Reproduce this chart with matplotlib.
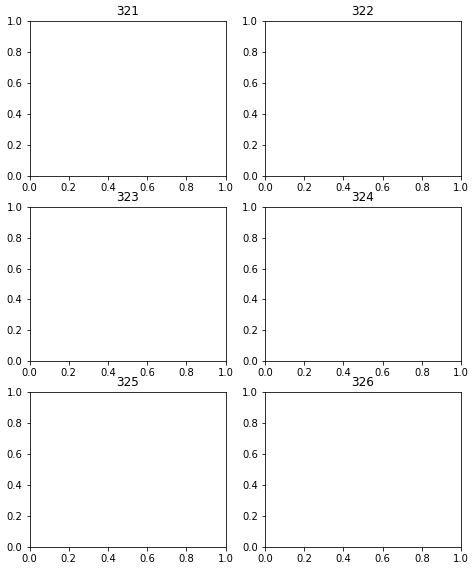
import matplotlib
matplotlib.use("Agg")
import matplotlib.pyplot as plt

# subplot codes used as titles
titles = ['321', '322', '323', '324', '325', '326']

fig = plt.figure(figsize=(474 / 72, 570 / 72), dpi=72)
for i, t in enumerate(titles):
    ax = fig.add_subplot(3, 2, i + 1)
    ax.set_title(t)

plt.subplots_adjust(left=29.5 / 474, right=461 / 474,
                    top=1 - 21 / 570, bottom=1 - 547 / 570,
                    wspace=0.2, hspace=0.2)
plt.savefig("out.png", dpi=72)
